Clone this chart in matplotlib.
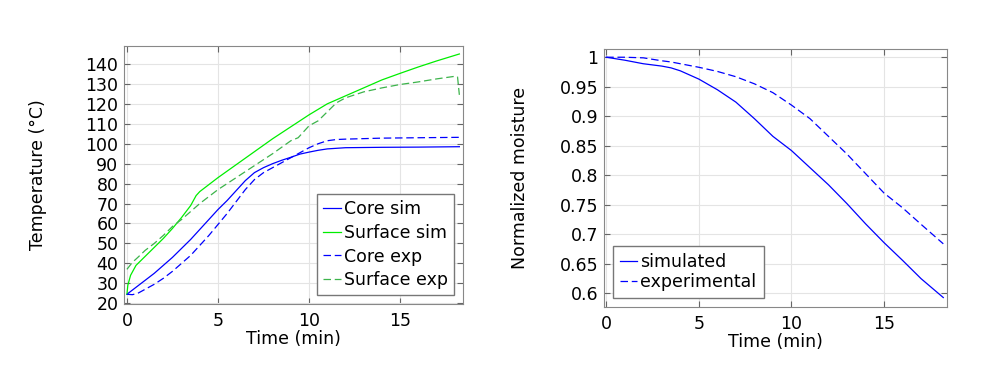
import matplotlib
matplotlib.use("Agg")
import matplotlib.pyplot as plt

# temperature data (min, degC)
t_core_sim = [0, 0.5, 1, 1.5, 2, 2.5, 3, 3.5, 4, 4.5, 5, 5.5, 6, 6.5, 7, 7.5, 8, 8.5, 9, 9.5, 10, 10.5, 11, 12, 14, 16, 18.25]
core_sim = [24.5, 28, 31.5, 35, 39, 43, 47.5, 52, 57, 62, 67, 71.5, 76.5, 81.5, 85.5, 88, 90, 91.7, 93.2, 94.8, 95.8, 96.7, 97.4, 98, 98.2, 98.3, 98.5]

t_surf_sim = [0, 0.05, 0.2, 0.5, 1, 1.5, 2, 2.5, 3, 3.5, 3.8, 4, 4.5, 5, 6, 7, 8, 9, 9.5, 10, 11, 12, 13, 14, 15, 16, 17, 18.25]
surf_sim = [24.5, 29, 34, 39, 43.5, 48, 52.5, 57.5, 63, 69, 74, 76, 79.5, 83, 89.5, 96, 102.5, 108.5, 111.5, 114.5, 120, 124, 128, 132, 135.3, 138.5, 141.5, 145]

t_core_exp = [0, 0.3, 0.6, 1, 1.5, 2, 2.5, 3, 3.5, 4, 4.5, 5, 5.5, 6, 6.5, 7, 7.5, 8, 8.5, 9, 9.5, 10, 10.5, 11, 11.5, 12, 14, 16, 18.25]
core_exp = [24.5, 24.3, 25, 27, 29.5, 32.5, 36, 40, 44, 49, 54, 59.5, 65, 71, 77, 82, 85.5, 88, 90.5, 93, 95.5, 98, 100, 101.5, 102.1, 102.3, 102.8, 103, 103.2]

t_surf_exp = [0, 0.3, 0.6, 1, 1.5, 2, 2.5, 3, 3.5, 4, 4.5, 5, 5.5, 6, 7, 8, 9, 9.4, 10, 10.5, 11, 11.5, 12, 13, 14, 15, 16, 17, 18, 18.15, 18.25]
surf_exp = [37, 40.5, 43, 46.5, 50, 54, 58.5, 62, 66, 70, 73.5, 77, 80, 83, 89, 95, 101.5, 103, 109, 111.5, 116, 120.5, 123, 126, 128, 129.7, 131, 132.5, 133.8, 133.5, 124.5]

# moisture data
t_moist = [0, 1, 2, 3, 3.5, 4, 4.5, 5, 6, 7, 8, 9, 10, 11, 12, 13, 14, 15, 16, 17, 18.2]
moist_sim = [1.0, 0.995, 0.989, 0.985, 0.982, 0.977, 0.970, 0.963, 0.945, 0.924, 0.896, 0.866, 0.842, 0.813, 0.784, 0.752, 0.718, 0.686, 0.656, 0.625, 0.593]
moist_exp = [1.0, 1.0, 0.999, 0.994, 0.992, 0.989, 0.986, 0.983, 0.976, 0.967, 0.955, 0.940, 0.919, 0.896, 0.866, 0.836, 0.803, 0.770, 0.745, 0.717, 0.684]

temp_ticks = [20, 30, 40, 50, 60, 70, 80, 90, 100, 110, 120, 130, 140]
moist_ticks = [0.6, 0.65, 0.7, 0.75, 0.8, 0.85, 0.9, 0.95, 1]
moist_ticklabels = ['0.6', '0.65', '0.7', '0.75', '0.8', '0.85', '0.9', '0.95', '1']
time_ticks = [0, 5, 10, 15]

fs = 12.5
plt.rcParams['font.family'] = 'DejaVu Sans'
plt.rcParams['font.size'] = fs

fig = plt.figure(figsize=(10, 3.71), dpi=100)
ax1 = fig.add_axes([0.124, 0.181, 0.339, 0.695])
ax2 = fig.add_axes([0.604, 0.1725, 0.343, 0.6955])

blue = '#0000ff'
green = '#00ee00'
green_d = '#3cb44b'
lw = 0.9

def style(ax):
    ax.grid(True, color='#e4e4e4', linewidth=0.8)
    ax.set_axisbelow(True)
    ax.tick_params(direction='in', top=True, right=True, length=4, width=0.8,
                   color='#666666', labelsize=fs)
    ax.tick_params(axis='x', pad=6)
    ax.tick_params(axis='y', pad=4)
    for s in ax.spines.values():
        s.set_color('#888888')
        s.set_linewidth(0.8)

ax1.plot(t_core_sim, core_sim, color=blue, lw=lw, label='Core sim')
ax1.plot(t_surf_sim, surf_sim, color=green, lw=lw, label='Surface sim')
ax1.plot(t_core_exp, core_exp, color=blue, lw=lw, ls=(0, (6, 3)), label='Core exp')
ax1.plot(t_surf_exp, surf_exp, color=green_d, lw=lw, ls=(0, (6, 3)), label='Surface exp')
ax1.set_xlim(-0.16, 18.45)
ax1.set_ylim(19.7, 149)
ax1.set_xticks(time_ticks)
ax1.set_yticks(temp_ticks)
ax1.set_xlabel('Time (min)', labelpad=0)
ax1.set_ylabel('Temperature (°C)', labelpad=28)
style(ax1)
leg1 = ax1.legend(loc='lower right', fancybox=False, framealpha=1, edgecolor='#777777',
                  handlelength=1.0, handletextpad=0.2, labelspacing=0.32,
                  borderaxespad=0.5, borderpad=0.35, fontsize=fs)
leg1.get_frame().set_linewidth(1.0)

ax2.plot(t_moist, moist_sim, color=blue, lw=lw, label='simulated')
ax2.plot(t_moist, moist_exp, color=blue, lw=lw, ls=(0, (6, 3)), label='experimental')
ax2.set_xlim(-0.12, 18.4)
ax2.set_ylim(0.577, 1.014)
ax2.set_xticks(time_ticks)
ax2.set_yticks(moist_ticks)
ax2.set_yticklabels(moist_ticklabels)
ax2.set_xlabel('Time (min)', labelpad=0)
ax2.set_ylabel('Normalized moisture', labelpad=22)
style(ax2)
leg2 = ax2.legend(loc='lower left', fancybox=False, framealpha=1, edgecolor='#777777',
                  handlelength=1.0, handletextpad=0.2, labelspacing=0.15,
                  borderaxespad=0.5, borderpad=0.4, fontsize=fs)
leg2.get_frame().set_linewidth(1.0)

fig.savefig('out.png', dpi=100)
